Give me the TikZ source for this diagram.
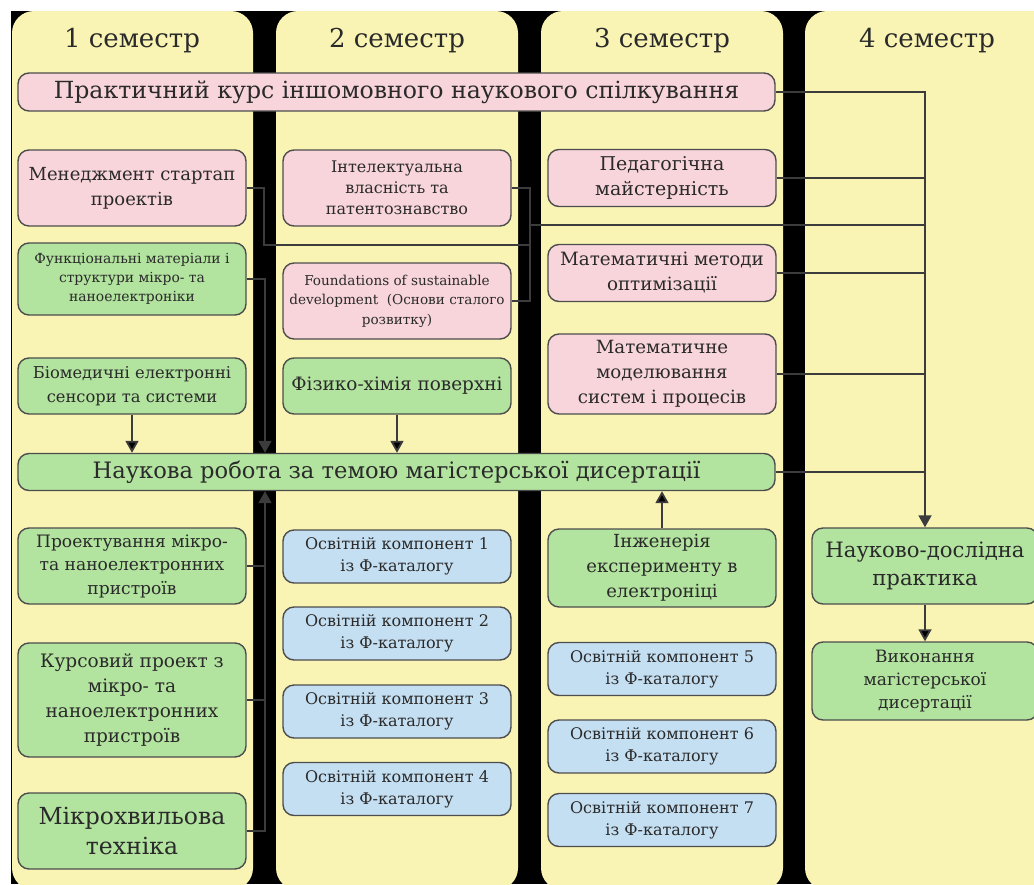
\documentclass[tikz,border=0pt]{standalone}
\usepackage{fontspec}
\setmainfont{DejaVu Serif}
\usepackage{xcolor}
\usepackage{tikz}
\usetikzlibrary{arrows.meta}
\definecolor{colbg}{HTML}{F9F4B4}
\definecolor{pinkfill}{HTML}{F8D5DB}
\definecolor{greenfill}{HTML}{B2E39F}
\definecolor{bluefill}{HTML}{C5DFF2}
\definecolor{boxline}{HTML}{4D4D4D}
\definecolor{connline}{HTML}{3C3C3C}
\definecolor{txt}{HTML}{2A2A2A}
\newcommand{\fsz}[2]{\fontsize{#1}{#2}\selectfont}

\begin{document}
\begin{tikzpicture}[x=1pt,y=-1pt,
	box/.style={draw=boxline,line width=1.4pt,rounded corners=11pt,align=center,inner sep=0pt,text=txt},
	pinkbox/.style={box,fill=pinkfill},
	greenbox/.style={box,fill=greenfill},
	bluebox/.style={box,fill=bluefill,minimum width=228pt,minimum height=53pt,font=\fsz{16}{22}},
	head/.style={text=txt,font=\fsz{26}{30}},
	conn/.style={draw=connline,line width=1.8pt},
	arr/.style={conn,-{Triangle[length=12pt,width=13pt]}}]
		\useasboundingbox (0,0) rectangle (1034,884);
		\fill[black] (11,11) rectangle (1034,884);
		\foreach \xl/\xr in {12/253,276/518,541/783,805/1060}
			\fill[colbg,rounded corners=22pt] (\xl,11) rectangle (\xr,890);
		%
		\node[head] (s1) at (132,41) {1 семестр};
		\node[head] (s2) at (397,41) {2 семестр};
		\node[head] (s3) at (662,41) {3 семестр};
		\node[head] (s4) at (927,41) {4 семестр};
		%
		\node[pinkbox,minimum width=757pt,minimum height=38pt,font=\fsz{23.6}{28}] (P) at (396.5,92) {Практичний курс іншомовного наукового спілкування};
		\node[greenbox,minimum width=757pt,minimum height=37pt,font=\fsz{22.6}{28}] (N) at (396.5,472) {Наукова робота за темою магістерської дисертації};
		%
		\node[pinkbox,minimum width=228pt,minimum height=76pt,font=\fsz{18}{25}] (M1) at (132,188) {Менеджмент стартап\\проектів};
		\node[greenbox,minimum width=228pt,minimum height=72pt,font=\fsz{13.9}{19}] (F1) at (132,279) {Функціональні матеріали і\\структури мікро- та\\наноелектроніки};
		\node[greenbox,minimum width=228pt,minimum height=56pt,font=\fsz{16.3}{24}] (B1) at (132,386) {Біомедичні електронні\\сенсори та системи};
		\node[greenbox,minimum width=228pt,minimum height=76pt,font=\fsz{17.1}{23.5}] (D1) at (132,566) {Проектування мікро-\\та наноелектронних\\пристроїв};
		\node[greenbox,minimum width=228pt,minimum height=114pt,font=\fsz{18.5}{25}] (K1) at (132,700) {Курсовий проект з\\мікро- та\\наноелектронних\\пристроїв};
		\node[greenbox,minimum width=228pt,minimum height=76pt,font=\fsz{23.5}{30}] (MW) at (132,831) {Мікрохвильова\\техніка};
		%
		\node[pinkbox,minimum width=228pt,minimum height=76pt,font=\fsz{16}{21}] (I2) at (397,188) {Інтелектуальна\\власність та\\патентознавство};
		\node[pinkbox,minimum width=228pt,minimum height=76pt,font=\fsz{13.6}{19.5}] (FS) at (397,301) {Foundations of sustainable\\development~ (Основи сталого\\розвитку)};
		\node[greenbox,minimum width=228pt,minimum height=56pt,font=\fsz{18.4}{25}] (FX) at (397,386) {Фізико-хімія поверхні};
		\node[bluebox] (O1) at (397,556.5) {Освітній компонент 1\\із Ф-каталогу};
		\node[bluebox] (O2) at (397,633.5) {Освітній компонент 2\\із Ф-каталогу};
		\node[bluebox] (O3) at (397,711.5) {Освітній компонент 3\\із Ф-каталогу};
		\node[bluebox] (O4) at (397,789) {Освітній компонент 4\\із Ф-каталогу};
		%
		\node[pinkbox,minimum width=228pt,minimum height=57pt,font=\fsz{19}{25}] (PM) at (662,178) {Педагогічна\\майстерність};
		\node[pinkbox,minimum width=228pt,minimum height=57pt,font=\fsz{18.3}{25}] (MM) at (662,273) {Математичні методи\\оптимізації};
		\node[pinkbox,minimum width=228pt,minimum height=80pt,font=\fsz{18.2}{25}] (MS) at (662,374) {Математичне\\моделювання\\систем і процесів};
		\node[greenbox,minimum width=228pt,minimum height=78pt,font=\fsz{18}{25}] (IE) at (662,568) {Інженерія\\експерименту в\\електроніці};
		\node[bluebox] (O5) at (662,669) {Освітній компонент 5\\із Ф-каталогу};
		\node[bluebox] (O6) at (662,746.5) {Освітній компонент 6\\із Ф-каталогу};
		\node[bluebox] (O7) at (662,820) {Освітній компонент 7\\із Ф-каталогу};
		%
		\node[greenbox,minimum width=226pt,minimum height=76pt,font=\fsz{21.2}{28}] (NP) at (925,566) {Науково-дослідна\\практика};
		\node[greenbox,minimum width=226pt,minimum height=78pt,font=\fsz{17}{23}] (VM) at (925,681) {Виконання\\магістерської\\дисертації};
		%
		\coordinate (lbus) at (265,0);
		\coordinate (jI) at (529,225);
		\coordinate (jM) at (529,245);
		%
		\draw[arr] (P.east) -| (NP.north);
		\draw[conn] (PM.east) -- (PM.east -| NP.north);
		\draw[conn] (jI) -- (jI -| NP.north);
		\draw[conn] (MM.east) -- (MM.east -| NP.north);
		\draw[conn] (MS.east) -- (MS.east -| NP.north);
		\draw[conn] (N.east) -- (N.east -| NP.north);
		\draw[conn] (I2.east) -- ++(18,0) |- (FS.east);
		\draw[conn] (M1.east) -- ++(17,0) |- (jM);
		%
		\draw[arr] (F1.east) -| (lbus |- N.north);
		\draw[conn] (D1.east) -- (D1.east -| lbus);
		\draw[conn] (K1.east) -- (K1.east -| lbus);
		\draw[arr] (MW.east) -| (lbus |- N.south);
		%
		\path[arr]
		(B1) edge (B1 |- N.north)
		(FX) edge (FX |- N.north)
		(IE) edge (IE |- N.south)
		(NP) edge (VM);
\end{tikzpicture}
\end{document}
